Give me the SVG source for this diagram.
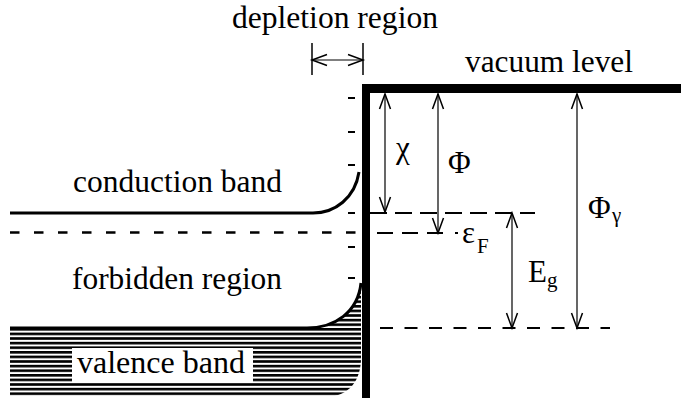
<svg xmlns="http://www.w3.org/2000/svg" width="681" height="403" viewBox="0 0 681 403">
<style>
.t{font-family:"Liberation Serif","Times New Roman",serif;font-size:31px;fill:#000}
.s{font-family:"Liberation Serif","Times New Roman",serif;font-size:21px;fill:#000}
.ar{stroke:#000;stroke-width:1.2;fill:none}
.dl{stroke:#000;stroke-width:2;fill:none}
.mn{stroke:#000;stroke-width:2}
</style>
<defs>
<marker id="ah" markerUnits="userSpaceOnUse" markerWidth="20" markerHeight="16" viewBox="-17 -8 20 16" refX="0" refY="0" orient="auto-start-reverse">
<path d="M-15,-5.5 L0,0 L-15,5.5" fill="none" stroke="#000" stroke-width="1.5"/>
</marker>
<pattern id="hatch" patternUnits="userSpaceOnUse" x="0" y="328" width="10" height="4.6">
<rect x="0" y="0" width="10" height="2.6" fill="#000"/>
</pattern>
</defs>
<rect width="681" height="403" fill="#fff"/>

<g id="labels">
<text class="t" x="232" y="28" textLength="206" lengthAdjust="spacingAndGlyphs">depletion region</text>
<text class="t" x="465" y="72" textLength="168" lengthAdjust="spacingAndGlyphs">vacuum level</text>
<text class="t" x="73" y="192" textLength="209" lengthAdjust="spacingAndGlyphs">conduction band</text>
<text class="t" x="72" y="289" textLength="210" lengthAdjust="spacingAndGlyphs">forbidden region</text>
</g>

<g id="surface">
<rect x="362" y="84" width="8" height="314" fill="#000"/>
<rect x="362" y="84" width="319" height="9" fill="#000"/>
</g>

<g id="depletion">
<line x1="312" y1="43" x2="312" y2="75" stroke="#000" stroke-width="1.5"/>
<line x1="363" y1="43" x2="363" y2="75" stroke="#000" stroke-width="1.5"/>
</g>

<g id="charges">
<line class="mn" x1="348" y1="98" x2="355" y2="98"/>
<line class="mn" x1="348" y1="132" x2="355" y2="132"/>
<line class="mn" x1="348" y1="165" x2="355" y2="165"/>
<line class="mn" x1="348" y1="213" x2="355" y2="213"/>
<line class="mn" x1="348" y1="247" x2="355" y2="247"/>
<line class="mn" x1="348" y1="278" x2="355" y2="278"/>
</g>

<g id="conduction-band">
<path d="M10,213 L313,213 C335,213 355,198 359,172" fill="none" stroke="#000" stroke-width="3"/>
</g>

<g id="fermi-left">
<line x1="10" y1="232.5" x2="361" y2="232.5" stroke="#000" stroke-width="2.5" stroke-dasharray="9.5 14.5"/>
</g>

<g id="valence-band">
<path d="M10,328 L307,328 C335,328 358,312 361,283 L361,360 C360,385 345,397 325,397 L10,397 Z" fill="url(#hatch)"/>
<path d="M10,328 L307,328 C335,328 358,312 361,283" fill="none" stroke="#000" stroke-width="3"/>
<rect x="72" y="348" width="181" height="34" fill="#fff"/>
<text class="t" x="77" y="373" textLength="168" lengthAdjust="spacingAndGlyphs">valence band</text>
</g>

<g id="levels-right">
<line class="dl" x1="370" y1="213" x2="535" y2="213" stroke-dasharray="17 8"/>
<line class="dl" x1="377" y1="233" x2="444" y2="233" stroke-dasharray="16 9"/>
<line class="dl" x1="455" y1="233" x2="458" y2="233"/>
<line class="dl" x1="380" y1="328" x2="610" y2="328" stroke-dasharray="13 11.5"/>
</g>

<g id="connectors">
<line class="ar" x1="312" y1="60" x2="363" y2="60" marker-start="url(#ah)" marker-end="url(#ah)"/>
<line class="ar" x1="385" y1="94" x2="385" y2="212" marker-start="url(#ah)" marker-end="url(#ah)"/>
<line class="ar" x1="438" y1="94" x2="438" y2="233" marker-start="url(#ah)" marker-end="url(#ah)"/>
<line class="ar" x1="512" y1="213" x2="512" y2="328" marker-start="url(#ah)" marker-end="url(#ah)"/>
<line class="ar" x1="577" y1="94" x2="577" y2="328" marker-start="url(#ah)" marker-end="url(#ah)"/>
</g>

<g id="symbols">
<text class="t" x="396" y="158">χ</text>
<text class="t" x="448" y="173">Φ</text>
<text class="t" x="462" y="243">ε</text>
<text class="s" x="477" y="253">F</text>
<text class="t" x="528" y="282">E</text>
<text class="s" x="547" y="287">g</text>
<text class="t" x="588" y="218">Φ</text>
<text class="s" x="612" y="222">γ</text>
</g>
</svg>
